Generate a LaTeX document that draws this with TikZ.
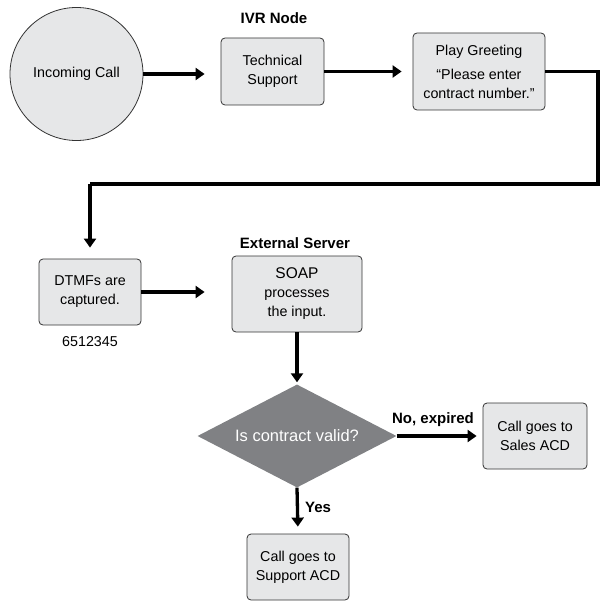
\documentclass[tikz,border=0pt]{standalone}
\usepackage{fontspec}
\setmainfont{Liberation Sans}
\usetikzlibrary{arrows.meta,shapes.geometric}
\definecolor{boxfill}{HTML}{E6E7E8}
\definecolor{boxline}{HTML}{333333}
\definecolor{diafill}{HTML}{808184}
\tikzset{
  x=1pt,y=-1pt,
  stepbox/.style={draw=boxline,line width=0.8pt,fill=boxfill,rounded corners=4pt,
    align=center,inner sep=0pt,font=\fontsize{14.3}{19}\selectfont},
  flow/.style={line width=3.3pt,-{Triangle[length=9pt,width=12pt]}},
  flowline/.style={line width=3.3pt},
  lbl/.style={font=\fontsize{15}{18}\selectfont\bfseries,inner sep=0pt},
}
\begin{document}
\begin{tikzpicture}
\useasboundingbox (0,0) rectangle (611,612);
\node[circle,draw=boxline,line width=0.8pt,fill=boxfill,minimum size=133pt,inner sep=0pt,
  font=\fontsize{14.3}{19}\selectfont] (call) at (76.5,74) {Incoming Call};
\node[stepbox,minimum width=103pt,minimum height=67pt] (tech) at (272.5,71.5) {Technical\\Support};
\node[stepbox,minimum width=132pt,minimum height=77pt] (greet) at (479,71.5)
  {Play Greeting\\[5pt]\textquotedblleft Please enter\\contract number.\textquotedblright};
\node[stepbox,minimum width=102pt,minimum height=66pt] (dtmf) at (90,292) {DTMFs are\\captured.};
\node[stepbox,minimum width=130pt,minimum height=76pt] (soap) at (297,294)
  {{\fontsize{15.5}{19}\selectfont SOAP}\\processes\\the input.};
\node[diamond,fill=diafill,minimum width=199pt,minimum height=103pt,aspect=1.93,inner sep=0pt,
  text=white,font=\fontsize{16.5}{19}\selectfont] (valid) at (297,436) {Is contract valid?};
\node[stepbox,minimum width=104pt,minimum height=66pt] (sales) at (535,436) {Call goes to\\Sales ACD};
\node[stepbox,minimum width=102pt,minimum height=66pt] (support) at (298,567) {Call goes to\\Support ACD};

\node[lbl] (ivr) at (274,18) {IVR Node};
\node[lbl] (ext) at (295,243) {External Server};
\node[font=\fontsize{14.3}{17}\selectfont,inner sep=0pt] (num) at (90,342) {6512345};
\node[lbl] (no) at (433,420) {No, expired};
\node[lbl] (yes) at (318,507) {Yes};

\coordinate (c1) at (598,184);
\coordinate (c2) at (90,184);

\draw[flow,shorten >=16pt] (call.east) -- (call.east -| tech.west);
\draw[flow,shorten >=11pt] (tech.east) -- (greet.west);
\draw[flowline,line join=miter] (greet.east) -| (c1) -- (c2);
\draw[flow,shorten >=11pt] (c2) -- (dtmf.north);
\draw[flow,shorten >=27pt] (dtmf.east) -- (dtmf.east -| soap.west);
\draw[flow,shorten >=2pt] (soap.south) -- (valid.north);
\draw[flow,shorten >=6pt] (valid.east) -- (sales.west);
\draw[flow,shorten >=7pt] (valid.south) -- (support.north);
\end{tikzpicture}
\end{document}
